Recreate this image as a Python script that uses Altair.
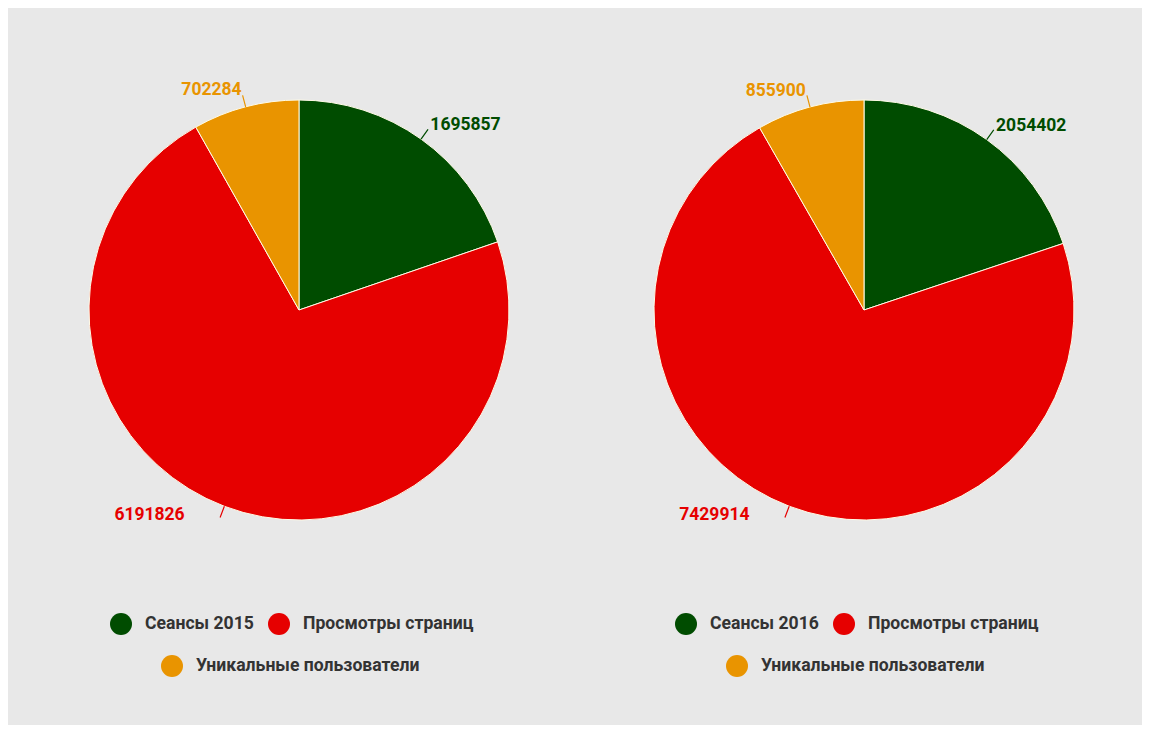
import altair as alt
import pandas as pd

categories_2015 = ["Сеансы 2015", "Просмотры страниц", "Уникальные пользователи"]
values_2015 = [1695857, 6191826, 702284]
categories_2016 = ["Сеансы 2016", "Просмотры страниц", "Уникальные пользователи"]
values_2016 = [2054402, 7429914, 855900]
colors = ["#004c00", "#e60000", "#e99400"]

LEG_COMMON = dict(
    orient="none",
    title=None,
    direction="horizontal",
    symbolType="circle",
    symbolSize=484,
    symbolStrokeWidth=0,
    symbolOpacity=1,
    labelFont="Roboto",
    labelFontSize=17.6,
    labelFontWeight="bold",
    labelColor="#333333",
    labelOffset=13,
    labelLimit=400,
    columnPadding=14,
    padding=0,
)


def pie(cats, vals):
    df = pd.DataFrame({"cat": cats, "value": vals, "idx": list(range(len(cats)))})
    scale = alt.Scale(domain=cats, range=colors)
    # same mapping, listed in another order so that Vega-Lite keeps a separate legend
    scale_fill = alt.Scale(domain=cats[2:] + cats[:2], range=colors[2:] + colors[:2])
    base = alt.Chart(df)

    arcs = base.mark_arc(outerRadius=210, stroke="#fffbe6", strokeWidth=1).encode(
        theta=alt.Theta("value:Q", stack=True),
        order=alt.Order("idx:Q", sort="ascending"),
        color=alt.Color(
            "cat:N",
            scale=scale,
            legend=alt.Legend(values=cats[:2], legendX=89, legendY=593, **LEG_COMMON),
        ),
    )

    mids = (
        base.transform_joinaggregate(total="sum(value)")
        .transform_window(cum="sum(value)", sort=[alt.SortField("idx")], frame=[None, 0])
        .transform_calculate(mid="datum.cum - datum.value / 2", series="datum.cat")
    )

    leaders = mids.mark_arc(innerRadius=210, outerRadius=222, fillOpacity=0, strokeWidth=1.2).encode(
        theta=alt.Theta("mid:Q", stack=None),
        theta2=alt.Theta2("mid:Q"),
        stroke=alt.Stroke("cat:N", scale=scale, legend=None),
    )

    labels = mids.mark_text(
        radius=226,
        font="Roboto",
        fontSize=17.5,
        fontWeight="bold",
        baseline="middle",
        align=alt.expr("datum.mid < datum.total / 2 ? 'left' : 'right'"),
        dx=alt.expr("datum.mid > datum.total * 0.5 && datum.mid < datum.total * 0.75 ? -34 : 0"),
        dy=alt.expr("datum.mid > datum.total * 0.5 && datum.mid < datum.total * 0.75 ? -6 : -1"),
    ).encode(
        theta=alt.Theta("mid:Q", stack=None),
        text=alt.Text("value:Q", format="d"),
        fill=alt.Fill(
            "series:N",
            scale=scale_fill,
            legend=alt.Legend(values=cats[2:], legendX=140, legendY=635, **LEG_COMMON),
        ),
    )

    return alt.layer(arcs, leaders, labels).properties(width=556, height=580)


chart = (
    alt.hconcat(pie(categories_2015, values_2015), pie(categories_2016, values_2016), spacing=9)
    .resolve_scale(theta="independent", color="independent", fill="independent", stroke="independent")
    .resolve_legend(color="independent", fill="independent")
    .properties(padding={"left": 13, "top": 12, "right": 0, "bottom": 48}, background="#e8e8e8")
    .configure_view(stroke="transparent")
)

chart.save("out.html", embed_options={"renderer": "svg", "actions": False})
